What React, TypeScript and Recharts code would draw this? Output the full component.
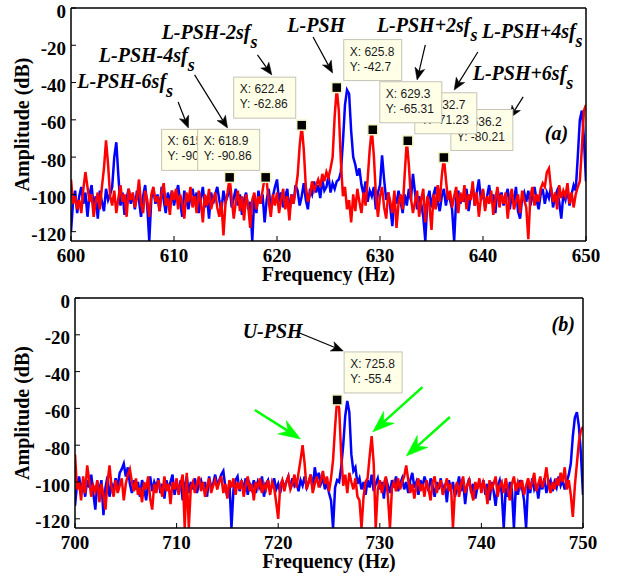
import React from "react";
import { LineChart, Line, XAxis, YAxis, ReferenceDot, ReferenceLine } from "recharts";

// spectrum bins, 0.2 Hz apart
const BIN = 0.2;
const N_BINS = 251;
const bins = (start: number) =>
  Array.from({ length: N_BINS }, (_, i) => Math.round((start + i * BIN) * 10) / 10);

const freqA = bins(600);
const freqB = bins(700);

// (a) 600-650 Hz, dB
const redA = [
  -92, -105, -101, -108, -103, -110, -97, -88, -96, -104,
  -100, -112, -104, -99, -108, -96, -86, -71, -84, -101,
  -106, -98, -110, -102, -95, -104, -100, -112, -97, -103,
  -99, -107, -102, -92, -105, -110, -98, -103, -112, -100,
  -96, -104, -101, -109, -99, -94, -106, -102, -111, -98,
  -103, -97, -108, -100, -105, -113, -99, -104, -96, -107,
  -101, -110, -98, -104, -115, -100, -106, -97, -108, -103,
  -99, -107, -112, -104, -122, -105, -99, -91, -102, -113,
  -104, -98, -109, -101, -114, -100, -106, -118, -103, -99,
  -108, -101, -105, -98, -91, -93, -104, -112, -100, -106,
  -99, -110, -103, -97, -108, -101, -114, -100, -105, -98,
  -90, -74, -63, -76, -96, -104, -100, -93, -98, -95,
  -92, -96, -89, -93, -88, -91, -86, -80, -58, -43,
  -55, -82, -101, -96, -108, -103, -115, -100, -109, -97,
  -104, -110, -99, -106, -92, -76, -65, -79, -100, -112,
  -101, -96, -107, -113, -99, -104, -110, -98, -118, -105,
  -100, -108, -89, -71, -84, -102, -110, -104, -98, -112,
  -103, -97, -115, -101, -106, -119, -100, -108, -95, -104,
  -90, -80, -92, -103, -98, -107, -101, -96, -110, -99,
  -104, -95, -108, -100, -103, -93, -106, -99, -112, -102,
  -97, -109, -101, -105, -98, -111, -103, -96, -107, -100,
  -105, -99, -113, -102, -97, -108, -104, -100, -110, -98,
  -103, -107, -124, -101, -96, -106, -100, -104, -97, -94,
  -96, -88, -86, -97, -104, -99, -108, -95, -102, -98,
  -101, -94, -105, -99, -107, -100, -96, -93, -75, -55,
  -52,
];

const blueA = [
  -120, -104, -98, -110, -101, -96, -105, -99, -112, -100,
  -95, -107, -101, -113, -98, -104, -109, -97, -103, -100,
  -96, -80, -72, -90, -106, -99, -111, -102, -97, -105,
  -100, -108, -98, -103, -112, -101, -95, -106, -125, -102,
  -97, -105, -100, -109, -96, -103, -110, -99, -104, -98,
  -106, -100, -95, -104, -112, -98, -103, -108, -101, -97,
  -104, -99, -110, -102, -96, -107, -101, -113, -99, -105,
  -100, -96, -103, -109, -98, -104, -101, -95, -107, -102,
  -97, -106, -100, -111, -103, -99, -108, -104, -125, -101,
  -110, -98, -105, -100, -115, -103, -97, -108, -101, -96,
  -92, -104, -99, -107, -101, -97, -110, -100, -105, -95,
  -98, -106, -101, -94, -103, -108, -97, -100, -93, -99,
  -95, -102, -92, -98, -96, -90, -99, -94, -97, -93,
  -92, -88, -72, -52, -44, -46, -66, -80, -84, -90,
  -86, -95, -100, -93, -104, -98, -101, -96, -108, -99,
  -95, -79, -92, -103, -99, -107, -117, -101, -105, -98,
  -104, -110, -100, -106, -97, -103, -89, -99, -108, -101,
  -105, -112, -125, -103, -98, -107, -100, -96, -104, -109,
  -101, -97, -106, -99, -103, -108, -125, -102, -98, -105,
  -100, -104, -97, -109, -101, -96, -106, -99, -92, -103,
  -98, -107, -101, -95, -104, -100, -110, -97, -103, -99,
  -106, -101, -97, -108, -100, -104, -96, -109, -113, -102,
  -99, -104, -98, -106, -101, -96, -103, -108, -100, -97,
  -105, -99, -102, -96, -107, -101, -98, -104, -113, -100,
  -103, -97, -106, -100, -95, -98, -80, -60, -55, -70,
  -93,
];

// (b) 700-750 Hz, dB
const redB = [
  -85, -104, -100, -110, -97, -106, -91, -99, -108, -102,
  -105, -99, -111, -101, -107, -115, -100, -91, -103, -108,
  -99, -106, -102, -98, -110, -101, -96, -93, -100, -105,
  -98, -107, -103, -111, -100, -104, -97, -109, -115, -101,
  -106, -99, -103, -108, -97, -105, -101, -112, -100, -104,
  -98, -107, -101, -96, -125, -95, -125, -103, -100, -106,
  -101, -97, -105, -100, -108, -103, -98, -106, -102, -99,
  -104, -100, -97, -106, -101, -109, -99, -103, -98, -107,
  -100, -104, -99, -108, -102, -97, -105, -101, -110, -100,
  -103, -98, -106, -101, -104, -99, -107, -100, -103, -111,
  -120, -102, -99, -105, -100, -97, -104, -101, -96, -103,
  -95, -88, -80, -90, -104, -100, -96, -106, -101, -97,
  -103, -99, -94, -101, -97, -105, -98, -88, -70, -55,
  -60, -85, -102, -96, -106, -95, -100, -104, -98, -108,
  -110, -125, -108, -100, -98, -86, -75, -90, -125, -104,
  -99, -106, -101, -97, -108, -125, -103, -100, -105, -98,
  -104, -100, -97, -91, -99, -106, -101, -109, -102, -98,
  -105, -101, -108, -99, -104, -110, -100, -97, -106, -102,
  -99, -107, -103, -98, -105, -101, -125, -104, -100, -108,
  -101, -97, -106, -102, -99, -105, -110, -100, -104, -98,
  -106, -100, -103, -112, -99, -104, -101, -97, -108, -102,
  -100, -106, -98, -104, -110, -101, -97, -105, -100, -103,
  -99, -107, -102, -98, -104, -100, -95, -105, -101, -97,
  -103, -99, -92, -101, -106, -100, -104, -98, -102, -95,
  -100, -92, -104, -99, -107, -119, -102, -90, -78, -72,
  -70,
];

const blueB = [
  -113, -101, -97, -104, -100, -108, -99, -103, -96, -106,
  -115, -100, -105, -99, -118, -103, -97, -108, -101, -104,
  -98, -103, -95, -93, -90, -97, -92, -101, -106, -99,
  -104, -100, -108, -99, -103, -110, -101, -97, -105, -100,
  -103, -98, -106, -101, -109, -99, -104, -100, -96, -107,
  -101, -105, -99, -110, -102, -97, -106, -100, -104, -98,
  -106, -101, -99, -104, -100, -108, -97, -103, -101, -96,
  -102, -99, -96, -94, -103, -108, -100, -125, -104, -99,
  -97, -105, -100, -103, -98, -107, -101, -104, -99, -106,
  -100, -103, -97, -108, -101, -99, -105, -102, -98, -104,
  -101, -106, -99, -103, -100, -97, -104, -98, -102, -100,
  -105, -99, -102, -97, -103, -100, -96, -104, -92, -99,
  -95, -101, -98, -104, -100, -106, -110, -125, -103, -99,
  -100, -92, -80, -64, -56, -62, -85, -94, -92, -101,
  -98, -104, -100, -107, -99, -103, -96, -105, -101, -98,
  -104, -100, -109, -98, -102, -106, -99, -103, -97, -105,
  -101, -98, -104, -100, -106, -99, -95, -103, -100, -107,
  -99, -103, -97, -101, -105, -98, -102, -108, -100, -104,
  -98, -106, -101, -111, -99, -104, -100, -108, -103, -97,
  -105, -100, -112, -102, -98, -106, -101, -109, -103, -100,
  -104, -99, -107, -101, -110, -100, -105, -113, -102, -99,
  -106, -125, -103, -108, -100, -104, -125, -101, -107, -99,
  -103, -110, -125, -100, -106, -98, -104, -101, -109, -100,
  -104, -98, -106, -101, -99, -105, -100, -103, -97, -102,
  -99, -104, -100, -96, -90, -75, -65, -62, -70, -85,
  -107,
];

const ticksA = [600, 610, 620, 630, 640, 650];
const ticksB = [700, 710, 720, 730, 740, 750];
const dbTicks = [0, -20, -40, -60, -80, -100, -120];

// data tips
const tipFreqA = [615.4, 618.9, 622.4, 625.8, 629.3, 632.7, 636.2];
const tipAmpA = [-90.86, -90.86, -62.86, -42.7, -65.31, -71.23, -80.21];
const tipSideA = ["left", "left", "left", "right", "right", "right", "right"];
const tipOrderA = [0, 1, 2, 3, 6, 5, 4];

const tipFreqB = [725.8];
const tipAmpB = [-55.4];
const tipSideB = ["right"];
const tipOrderB = [0];

type Callout = { text: string; sub?: string; f: number; v: number };

const calloutsA: Callout[] = [
  { text: "L-PSH-6sf", sub: "s", f: 600.6, v: -42.9 },
  { text: "L-PSH-4sf", sub: "s", f: 602.7, v: -29.0 },
  { text: "L-PSH-2sf", sub: "s", f: 608.8, v: -16.6 },
  { text: "L-PSH", f: 621.0, v: -12.9 },
  { text: "L-PSH+2sf", sub: "s", f: 629.7, v: -12.9 },
  { text: "L-PSH+4sf", sub: "s", f: 639.9, v: -16.1 },
  { text: "L-PSH+6sf", sub: "s", f: 639.0, v: -38.6 },
  { text: "(a)", f: 646.0, v: -70.8 },
];

const calloutsB: Callout[] = [
  { text: "U-PSH", f: 716.5, v: -21.7 },
  { text: "(b)", f: 746.9, v: -17.9 },
];

// arrows: [tail f, tail dB, head f, head dB]
const arrowsA = [
  [610.4, -50.4, 611.4, -64.4],
  [612.0, -35.9, 615.2, -64.4],
  [618.1, -25.2, 619.5, -35.9],
  [623.5, -15.6, 625.4, -34.9],
  [634.4, -19.8, 633.6, -38.6],
  [639.5, -23.6, 637.2, -44.0],
  [643.9, -47.7, 642.6, -59.0],
];
const arrowsB = [[722.1, -19.0, 726.4, -28.8]];
const greenArrowsB = [
  [717.7, -60.9, 722.2, -76.6],
  [734.2, -48.4, 729.3, -72.8],
  [736.9, -64.7, 732.6, -85.9],
];

const serif = '"Liberation Serif", "Times New Roman", serif';
const sans = '"Liberation Sans", Arial, sans-serif';

const XTick = (p: any) => (
  <g>
    <line x1={p.x} y1={p.y} x2={p.x} y2={p.y - 5} stroke="#000" />
    <text x={p.x} y={p.y + 21} textAnchor="middle" fontFamily={serif} fontWeight={700} fontSize={19} fill="#000">
      {p.payload.value}
    </text>
  </g>
);

const YTick = (p: any) => (
  <g>
    <line x1={p.x} y1={p.y} x2={p.x + 5} y2={p.y} stroke="#000" />
    <text x={p.x - 5} y={p.y + 9.5} textAnchor="end" fontFamily={serif} fontWeight={700} fontSize={19} fill="#000">
      {p.payload.value}
    </text>
  </g>
);

const charW: Record<string, number> = { ".": 0.278, ":": 0.278, " ": 0.278, "-": 0.333, X: 0.667, Y: 0.667 };
const textW = (s: string) => s.split("").reduce((a, c) => a + (charW[c] ?? 0.556), 0) * 12;

function TipShape({ cx, cy, f, v, side }: any) {
  const l1 = `X: ${f}`;
  const l2 = `Y: ${v}`;
  const w = Math.round(Math.max(textW(l1), textW(l2)) + 13);
  const bx = side === "left" ? cx - 6 - w : cx + 7;
  const by = cy - 48;
  return (
    <g>
      <rect x={bx} y={by} width={w} height={41} fill="#ffffe8" stroke="#c4c4b4" strokeWidth={1} />
      <text x={bx + 6} y={by + 16} fontFamily={sans} fontSize={12} fill="#1a1a1a">{l1}</text>
      <text x={bx + 6} y={by + 31} fontFamily={sans} fontSize={12} fill="#1a1a1a">{l2}</text>
      <rect x={cx - 5} y={cy - 5} width={10} height={10} fill="#000" stroke="#f4f4c8" strokeWidth={1.5} />
    </g>
  );
}

function CalloutShape({ cx, cy, text, sub }: any) {
  return (
    <text x={cx} y={cy} fontFamily={serif} fontWeight={700} fontStyle="italic" fontSize={20} fill="#000">
      {text}
      {sub && (
        <tspan dy={9} fontSize={18}>
          {sub}
        </tspan>
      )}
    </text>
  );
}

const arrowShape = (color: string, width: number, headLen: number, half: number, notch: number) => (p: any) => {
  const { x1, y1, x2, y2 } = p;
  const len = Math.hypot(x2 - x1, y2 - y1) || 1;
  const ux = (x2 - x1) / len;
  const uy = (y2 - y1) / len;
  const bx = x2 - ux * headLen;
  const by = y2 - uy * headLen;
  const mx = x2 - ux * (headLen - notch);
  const my = y2 - uy * (headLen - notch);
  const pts = [
    [x2, y2],
    [bx - uy * half, by + ux * half],
    [mx, my],
    [bx + uy * half, by - ux * half],
  ]
    .map((q) => q.join(","))
    .join(" ");
  return (
    <g>
      <line x1={x1} y1={y1} x2={mx} y2={my} stroke={color} strokeWidth={width} />
      <polygon points={pts} fill={color} stroke={color} strokeWidth={0.5} />
    </g>
  );
};

const blackArrow = arrowShape("#000", 1.2, 12, 5, 3);
const greenArrow = arrowShape("#00ff00", 2.5, 22, 8, 7);

type PanelProps = {
  freq: number[];
  red: number[];
  blue: number[];
  xTicks: number[];
  height: number;
  top: number;
  right: number;
  yWidth: number;
  xHeight: number;
  tipF: number[];
  tipV: number[];
  tipSide: string[];
  tipOrder: number[];
  callouts: Callout[];
  arrows: number[][];
  greens: number[][];
};

function Panel(props: PanelProps) {
  const { freq, red, blue, xTicks, height, top, right, yWidth, xHeight } = props;
  const data = freq.map((f, i) => ({ f, red: red[i], blue: blue[i] }));
  const xDomain: [number, number] = [xTicks[0], xTicks[xTicks.length - 1]];
  const frame = { stroke: "#000", strokeWidth: 1.5 };

  return (
    <LineChart width={625} height={height} data={data} margin={{ top, right, bottom: 0, left: 0 }}>
      <XAxis
        dataKey="f"
        type="number"
        domain={xDomain}
        ticks={xTicks}
        interval={0}
        allowDataOverflow
        tickSize={0}
        tickMargin={0}
        tickLine={false}
        axisLine={frame}
        tick={XTick}
        height={xHeight}
        label={({ viewBox }: any) => (
          <text
            x={viewBox.x + viewBox.width / 2}
            y={viewBox.y + 39.5}
            textAnchor="middle"
            fontFamily={serif}
            fontWeight={700}
            fontSize={20}
            fill="#000"
          >
            Frequency (Hz)
          </text>
        )}
      />
      <XAxis
        xAxisId="top"
        orientation="top"
        type="number"
        domain={xDomain}
        ticks={xTicks}
        interval={0}
        allowDataOverflow
        mirror
        tick={false}
        tickSize={5}
        tickLine={{ stroke: "#000" }}
        axisLine={frame}
      />
      <YAxis
        type="number"
        domain={[-125, 0]}
        ticks={dbTicks}
        interval={0}
        allowDataOverflow
        width={yWidth}
        tickSize={0}
        tickMargin={0}
        tickLine={false}
        axisLine={frame}
        tick={YTick}
        label={({ viewBox }: any) => {
          const cx = viewBox.x + 29;
          const cy = viewBox.y + viewBox.height / 2;
          return (
            <text
              x={cx}
              y={cy}
              transform={`rotate(-90 ${cx} ${cy})`}
              textAnchor="middle"
              fontFamily={serif}
              fontWeight={700}
              fontSize={20}
              fill="#000"
            >
              Amplitude (dB)
            </text>
          );
        }}
      />
      <YAxis
        yAxisId="right"
        orientation="right"
        type="number"
        domain={[-125, 0]}
        ticks={dbTicks}
        interval={0}
        allowDataOverflow
        mirror
        tick={false}
        tickSize={5}
        tickLine={{ stroke: "#000" }}
        axisLine={frame}
      />
      <Line dataKey="blue" stroke="#0000ff" strokeWidth={2.5} dot={false} isAnimationActive={false} />
      <Line dataKey="red" stroke="#ff0000" strokeWidth={2.5} dot={false} isAnimationActive={false} />

      {props.tipOrder.map((i) => (
        <ReferenceDot
          key={`tip${i}`}
          x={props.tipF[i]}
          y={props.tipV[i]}
          r={0}
          ifOverflow="visible"
          shape={(p: any) => (
            <TipShape cx={p.cx} cy={p.cy} f={props.tipF[i]} v={props.tipV[i]} side={props.tipSide[i]} />
          )}
        />
      ))}

      {props.arrows.map((a, i) => (
        <ReferenceLine
          key={`ar${i}`}
          segment={[
            { x: a[0], y: a[1] },
            { x: a[2], y: a[3] },
          ]}
          ifOverflow="visible"
          shape={blackArrow}
        />
      ))}
      {props.greens.map((a, i) => (
        <ReferenceLine
          key={`gr${i}`}
          segment={[
            { x: a[0], y: a[1] },
            { x: a[2], y: a[3] },
          ]}
          ifOverflow="visible"
          shape={greenArrow}
        />
      ))}

      {props.callouts.map((c, i) => (
        <ReferenceDot
          key={`co${i}`}
          x={c.f}
          y={c.v}
          r={0}
          ifOverflow="visible"
          shape={(p: any) => <CalloutShape cx={p.cx} cy={p.cy} text={c.text} sub={c.sub} />}
        />
      ))}
    </LineChart>
  );
}

export default function App() {
  return (
    <div style={{ position: "absolute", left: 0, top: 0, width: 625, height: 573, background: "#fff" }}>
      <div style={{ position: "absolute", left: 0, top: 0 }}>
        <Panel
          freq={freqA}
          red={redA}
          blue={blueA}
          xTicks={ticksA}
          height={285}
          top={8}
          right={39}
          yWidth={71}
          xHeight={44}
          tipF={tipFreqA}
          tipV={tipAmpA}
          tipSide={tipSideA}
          tipOrder={tipOrderA}
          callouts={calloutsA}
          arrows={arrowsA}
          greens={[]}
        />
      </div>
      <div style={{ position: "absolute", left: 0, top: 285 }}>
        <Panel
          freq={freqB}
          red={redB}
          blue={blueB}
          xTicks={ticksB}
          height={288}
          top={13}
          right={42}
          yWidth={75}
          xHeight={45}
          tipF={tipFreqB}
          tipV={tipAmpB}
          tipSide={tipSideB}
          tipOrder={tipOrderB}
          callouts={calloutsB}
          arrows={arrowsB}
          greens={greenArrowsB}
        />
      </div>
    </div>
  );
}
